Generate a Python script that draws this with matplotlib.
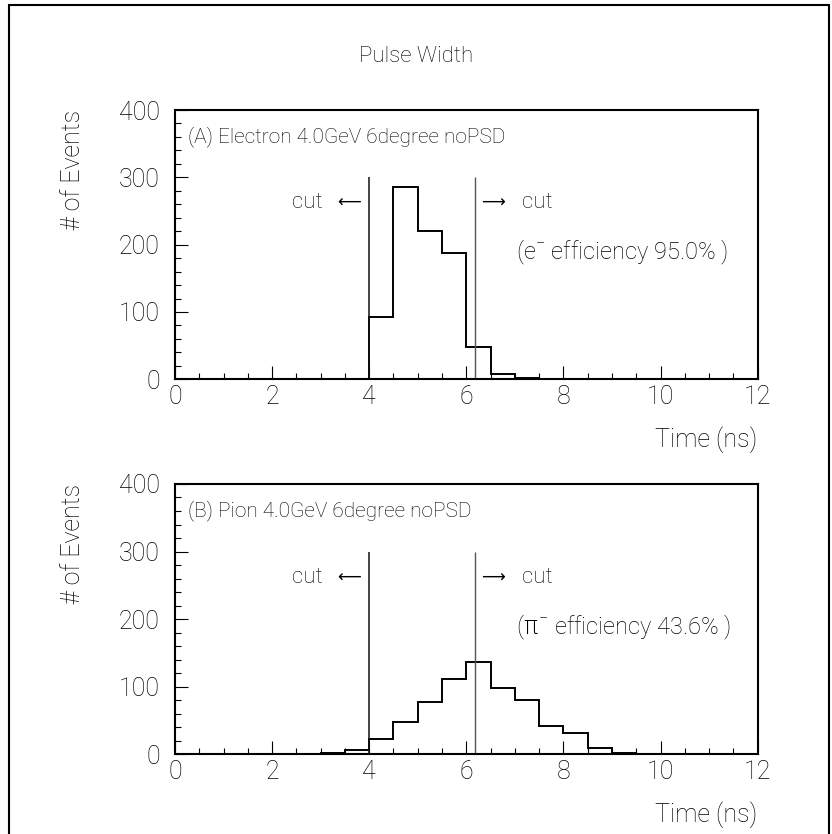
import numpy as np
import matplotlib
matplotlib.use('Agg')
import matplotlib.pyplot as plt
from matplotlib.patches import Rectangle
from matplotlib.ticker import MultipleLocator

# bin edges (ns) and counts per 0.5 ns bin
edges = np.arange(0, 12.5, 0.5)
electron = [0, 0, 0, 0, 0, 0, 0, 0,
            93, 285, 221, 188, 48, 8, 2, 0,
            0, 1, 0, 0, 0, 0, 0, 0]
pion = [0, 0, 0, 0, 0, 0, 2, 6,
        23, 48, 78, 111, 136, 98, 80, 42,
        31, 10, 2, 1, 1, 0, 1, 0]

cut_low = 4.0
cut_high = 6.17
cut_top = 300

panel_titles = ["(A) Electron 4.0GeV 6degree noPSD", "(B) Pion 4.0GeV 6degree noPSD"]
eff_texts = ["(e$^{-}$ efficiency 95.0% )", "($\\pi^{-}$ efficiency 43.6% )"]

plt.rcParams['font.family'] = ['Roboto', 'DejaVu Sans']
plt.rcParams['font.weight'] = 'light'
plt.rcParams['mathtext.fontset'] = 'custom'
plt.rcParams['mathtext.rm'] = 'Roboto:light'
plt.rcParams['mathtext.it'] = 'DejaVu Sans'
fig = plt.figure(figsize=(8.32, 8.34), dpi=100)

fig.patches.append(Rectangle((8.5 / 832, -0.01), (829 - 8.5) / 832, (834 - 5) / 834 + 0.01,
                             transform=fig.transFigure, fill=False, lw=1.5, ec='black'))
fig.text(0.5, 1 - 57 / 834, "Pulse Width", ha='center', va='center', fontsize=16, color='black')

positions = [[0.2103, 0.5452, 0.7003, 0.3229], [0.2103, 0.0956, 0.7003, 0.3241]]

for pos, counts, ttl, eff in zip(positions, [electron, pion], panel_titles, eff_texts):
    ax = fig.add_axes(pos)
    ax.stairs(counts, edges, color='black', lw=1.4)
    ax.vlines([cut_low], 0, cut_top, color='#111', lw=1.1)
    ax.vlines([cut_high], 0, cut_top, color='#555', lw=1.0)
    ax.set_xlim(0, 12)
    ax.set_ylim(0, 400)
    ax.xaxis.set_major_locator(MultipleLocator(2))
    ax.xaxis.set_minor_locator(MultipleLocator(0.5))
    ax.yaxis.set_major_locator(MultipleLocator(100))
    ax.yaxis.set_minor_locator(MultipleLocator(20))
    ax.tick_params(which='both', direction='in', top=False, right=False, width=0.8,
                   labelsize=18, labelcolor='black')
    ax.tick_params(which='major', length=9.5)
    ax.tick_params(which='minor', length=4.5)
    ax.tick_params(axis='y', pad=11)
    ax.tick_params(axis='x', pad=4)
    for s in ax.spines.values():
        s.set_linewidth(1.5)

    ax.text(0.27, 360, ttl, fontsize=15, va='center', ha='left', color='black')
    ax.text(3.05, 262, "cut", fontsize=16, va='center', ha='right', color='black')
    ax.text(3.84, 262, "\u27f5", fontsize=12, va='center', ha='right', color='black',
            family='DejaVu Sans', fontweight='normal')
    ax.text(6.31, 262, "\u27f6", fontsize=12, va='center', ha='left', color='black',
            family='DejaVu Sans', fontweight='normal')
    ax.text(7.15, 262, "cut", fontsize=16, va='center', ha='left', color='black')
    ax.text(7.03, 188, eff, fontsize=17, va='center', ha='left', color='black')
    ax.text(1.0, -0.223, "Time (ns)", transform=ax.transAxes, fontsize=18,
            ha='right', va='center', color='black')
    ax.text(-0.175, 1.0, "# of Events", transform=ax.transAxes, fontsize=18,
            rotation=90, ha='center', va='top', color='black')

fig.savefig('out.png', dpi=100)
